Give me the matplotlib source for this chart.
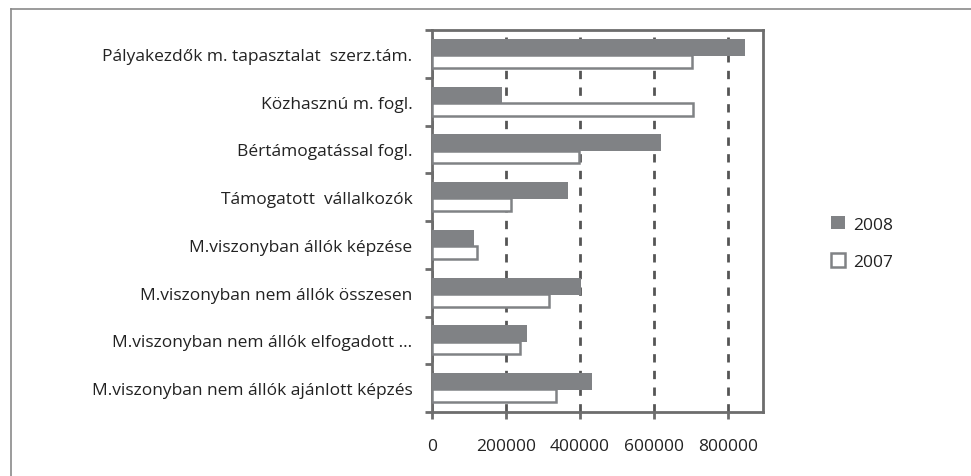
import matplotlib
matplotlib.use("Agg")
import matplotlib.pyplot as plt
from matplotlib.lines import Line2D
from matplotlib.ticker import FixedLocator
import numpy as np

plt.rcParams['font.family'] = ['Open Sans', 'DejaVu Sans']

categories = [
    "Pályakezdők m. tapasztalat  szerz.tám.",
    "Közhasznú m. fogl.",
    "Bértámogatással fogl.",
    "Támogatott  vállalkozók",
    "M.viszonyban állók képzése",
    "M.viszonyban nem állók összesen",
    "M.viszonyban nem állók elfogadott ...",
    "M.viszonyban nem állók ajánlott képzés",
]
values_2008 = [846000, 188000, 618000, 367000, 113500, 403500, 257000, 431500]
values_2007 = [702000, 706000, 397000, 213000, 121000, 316000, 238000, 334000]
xticks = [0, 200000, 400000, 600000, 800000]
xtick_labels = ["0", "200000", "400000", "600000", "800000"]

W, H = 971, 477
fig = plt.figure(figsize=(W / 100, H / 100), dpi=100)
ax = fig.add_axes([432 / W, 1 - 413 / H, (763 - 432) / W, (413 - 31) / H])

y = np.arange(len(categories))
gray = '#808285'
ax.barh(y - 0.136, values_2008, height=0.356, color=gray, edgecolor='none', label='2008', zorder=4)
ax.barh(y + 0.16, values_2007, height=0.27, color='white', edgecolor=gray, linewidth=1.8,
        label='2007', zorder=3)

ax.set_xlim(0, 895000)
ax.set_ylim(len(categories) - 0.5, -0.5)
ax.set_xticks(xticks)
ax.set_xticklabels(xtick_labels, fontsize=12.5, color='#222222')
ax.set_yticks(y)
ax.set_yticklabels(categories, fontsize=12.5, color='#222222')
ax.tick_params(axis='y', length=0, pad=14)
ax.yaxis.set_minor_locator(FixedLocator(np.arange(-0.5, len(categories) + 0.5, 1)))
ax.tick_params(axis='y', which='minor', length=5, width=2, color='#6d6d6d', direction='out')
ax.tick_params(axis='x', length=5, width=2, color='#6d6d6d', direction='out', pad=14)

ax.grid(axis='x', linestyle=(0, (3, 3)), color='#555555', linewidth=2, zorder=1)
for s in ax.spines.values():
    s.set_color('#6d6d6d')
    s.set_linewidth(2)

leg = fig.legend(loc='center left', bbox_to_anchor=(815 / W, 1 - 244 / H), frameon=False,
                 fontsize=12.5, handlelength=0.8, handleheight=0.8, handletextpad=0.5,
                 labelspacing=1.2)
for t in leg.get_texts():
    t.set_color('#222222')

# outer frame
fig.add_artist(Line2D([11 / W, 11 / W], [0, 1 - 10 / H], transform=fig.transFigure,
                      color='#8a8a8a', linewidth=1.2))
fig.add_artist(Line2D([11 / W, 1], [1 - 10 / H, 1 - 10 / H], transform=fig.transFigure,
                      color='#8a8a8a', linewidth=1.2))

fig.savefig('out.png', dpi=100)
